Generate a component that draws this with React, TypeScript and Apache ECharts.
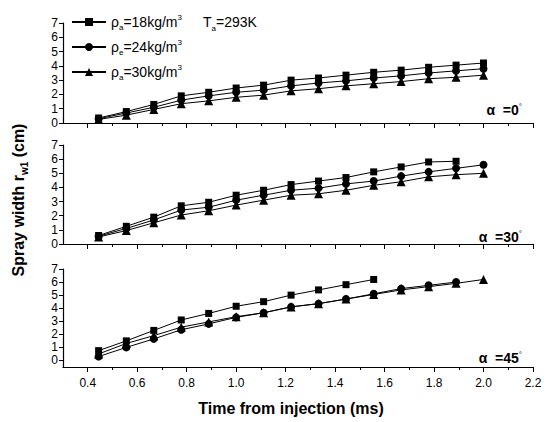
import React, { useEffect, useRef } from "react";
import * as echarts from "echarts";

const times = [0.444, 0.556, 0.667, 0.778, 0.889, 1.0, 1.111, 1.222, 1.333, 1.444, 1.556, 1.667, 1.778, 1.889, 2.0];

const seriesNames = ["ρa=18kg/m3", "ρe=24kg/m3", "ρa=30kg/m3"];
const legendRich = ["ρ{sub|a}=18kg/m{sup|3}", "ρ{sub|e}=24kg/m{sup|3}", "ρ{sub|a}=30kg/m{sup|3}"];
const symbols = ["rect", "circle", "triangle"];
const symbolSizes = [7, 8, 9];

// alpha = 0 deg
const a0_18 = [0.35, 0.8, 1.3, 1.9, 2.15, 2.45, 2.65, 3.0, 3.15, 3.35, 3.55, 3.7, 3.9, 4.05, 4.2];
const a0_24 = [0.3, 0.7, 1.1, 1.6, 1.9, 2.15, 2.3, 2.6, 2.8, 2.95, 3.15, 3.3, 3.5, 3.65, 3.8];
const a0_30 = [0.25, 0.55, 0.95, 1.35, 1.55, 1.8, 1.95, 2.25, 2.4, 2.6, 2.75, 2.9, 3.1, 3.2, 3.35];

// alpha = 30 deg
const a30_18 = [0.6, 1.25, 1.9, 2.7, 2.95, 3.45, 3.8, 4.2, 4.45, 4.7, 5.1, 5.45, 5.8, 5.85, null];
const a30_24 = [0.55, 1.1, 1.7, 2.4, 2.6, 3.1, 3.45, 3.8, 3.95, 4.25, 4.45, 4.8, 5.1, 5.35, 5.6];
const a30_30 = [0.5, 0.95, 1.5, 2.05, 2.35, 2.75, 3.1, 3.45, 3.55, 3.8, 4.15, 4.4, 4.75, 4.9, 5.0];

// alpha = 45 deg
const a45_18 = [0.75, 1.5, 2.3, 3.1, 3.6, 4.15, 4.5, 5.0, 5.4, 5.8, 6.2, null, null, null, null];
const a45_24 = [0.3, 1.0, 1.65, 2.35, 2.8, 3.3, 3.65, 4.1, 4.35, 4.7, 5.1, 5.5, 5.75, 6.0, null];
const a45_30 = [0.5, 1.3, 1.9, 2.55, 2.95, 3.35, 3.65, 4.1, 4.35, 4.7, 5.05, 5.4, 5.65, 5.9, 6.2];

const panels = [
  { label: "0", data: [a0_18, a0_24, a0_30], ymin: 0 },
  { label: "30", data: [a30_18, a30_24, a30_30], ymin: 0 },
  { label: "45", data: [a45_18, a45_24, a45_30], ymin: -0.5 },
];

const xMajor = [0.4, 0.6, 0.8, 1.0, 1.2, 1.4, 1.6, 1.8, 2.0, 2.2];
const xMinor = [0.5, 0.7, 0.9, 1.1, 1.3, 1.5, 1.7, 1.9, 2.1];
const yTicks = [0, 1, 2, 3, 4, 5, 6, 7];

const FONT = "'Liberation Sans', Arial, sans-serif";

const grids = [
  { left: 63, top: 23, width: 470, height: 100 },
  { left: 63, top: 145, width: 470, height: 99 },
  { left: 63, top: 269, width: 470, height: 98 },
];
const alphaTops = [102, 229, 350];

export default function App() {
  const ref = useRef<HTMLDivElement>(null);
  useEffect(() => {
    if (!ref.current) return;
    const chart = echarts.init(ref.current, null, { renderer: "svg" });

    const xAxes: any[] = [];
    const yAxes: any[] = [];
    const series: any[] = [];
    panels.forEach((p, gi) => {
      xAxes.push({
        gridIndex: gi,
        type: "value",
        min: 0.3,
        max: 2.2,
        position: "bottom",
        axisLine: { show: true, onZero: false, lineStyle: { color: "#000", width: 1.2 } },
        axisTick: { show: true, customValues: xMajor, length: 5, inside: false, lineStyle: { color: "#000" } },
        axisLabel: {
          show: gi === 2,
          customValues: xMajor,
          formatter: (v: number) => v.toFixed(1),
          color: "#000",
          fontSize: 12,
          fontFamily: FONT,
          margin: 10,
        },
        splitLine: { show: false },
      });
      yAxes.push({
        gridIndex: gi,
        type: "value",
        min: p.ymin,
        max: 7,
        axisLine: { show: true, onZero: false, lineStyle: { color: "#000", width: 1.2 } },
        axisTick: { show: true, customValues: yTicks, length: 4, lineStyle: { color: "#000" } },
        axisLabel: {
          customValues: yTicks,
          color: "#000",
          fontSize: 12,
          lineHeight: 12,
          fontFamily: FONT,
          margin: 5,
        },
        splitLine: { show: false },
      });
    });
    panels.forEach((p, gi) => {
      xAxes.push({
        gridIndex: gi,
        type: "value",
        min: 0.3,
        max: 2.2,
        position: "bottom",
        axisLine: { show: false, onZero: false },
        axisTick: { show: true, customValues: xMinor, length: 3, lineStyle: { color: "#000" } },
        axisLabel: { show: false },
        splitLine: { show: false },
      });
      p.data.forEach((vals, si) => {
        series.push({
          name: seriesNames[si],
          type: "line",
          xAxisIndex: gi,
          yAxisIndex: gi,
          data: times.map((t, i) => [t, vals[i]]),
          symbol: symbols[si],
          symbolSize: symbolSizes[si],
          showSymbol: true,
          connectNulls: false,
          itemStyle: { color: "#000" },
          lineStyle: { color: "#000", width: 1 },
          emphasis: { disabled: true },
        });
      });
    });

    const graphic: any[] = [
      {
        type: "text",
        left: 203,
        top: 12,
        style: {
          text: "T{sub|a}=293K",
          fontSize: 14,
          fontFamily: FONT,
          fill: "#000",
          lineHeight: 20,
          rich: {
            sub: { fontSize: 8, fontFamily: FONT, fill: "#000", verticalAlign: "bottom", lineHeight: 8 },
          },
        },
      },
      {
        type: "text",
        x: 18,
        y: 200,
        rotation: Math.PI / 2,
        style: {
          text: "Spray width r{sub|w1} (cm)",
          fontSize: 16,
          fontWeight: "bold",
          fontFamily: FONT,
          fill: "#000",
          align: "center",
          verticalAlign: "middle",
          lineHeight: 22,
          rich: {
            sub: { fontSize: 10, fontWeight: "bold", fontFamily: FONT, fill: "#000", verticalAlign: "bottom", lineHeight: 10 },
          },
        },
      },
      {
        type: "text",
        x: 291,
        y: 408,
        style: {
          text: "Time from injection (ms)",
          fontSize: 16,
          fontWeight: "bold",
          fontFamily: FONT,
          fill: "#000",
          align: "center",
          verticalAlign: "middle",
        },
      },
    ];
    panels.forEach((p, gi) => {
      graphic.push({
        type: "text",
        right: 24,
        top: alphaTops[gi],
        style: {
          text: "α  =" + p.label + "{sup|°}",
          fontSize: 14,
          fontWeight: "bold",
          fontFamily: FONT,
          fill: "#000",
          lineHeight: 16,
          rich: {
            sup: { fontSize: 8, fontFamily: FONT, fill: "#000", verticalAlign: "top", lineHeight: 8 },
          },
        },
      });
    });

    chart.setOption({
      animation: false,
      grid: grids,
      xAxis: xAxes,
      yAxis: yAxes,
      series,
      legend: {
        data: seriesNames,
        orient: "vertical",
        left: 66,
        top: 8,
        itemWidth: 34,
        itemHeight: 10,
        itemGap: 7,
        selectedMode: false,
        formatter: (name: string) => legendRich[seriesNames.indexOf(name)],
        textStyle: {
          fontSize: 14,
          fontFamily: FONT,
          color: "#000",
          lineHeight: 18,
          rich: {
            sub: { fontSize: 8, fontFamily: FONT, color: "#000", verticalAlign: "bottom", lineHeight: 8 },
            sup: { fontSize: 8, fontFamily: FONT, color: "#000", verticalAlign: "top", lineHeight: 8 },
          },
        },
      },
      graphic,
    });
    return () => chart.dispose();
  }, []);
  return <div ref={ref} style={{ width: 546, height: 422, position: "absolute", left: 0, top: 0, background: "#fff" }} />;
}
